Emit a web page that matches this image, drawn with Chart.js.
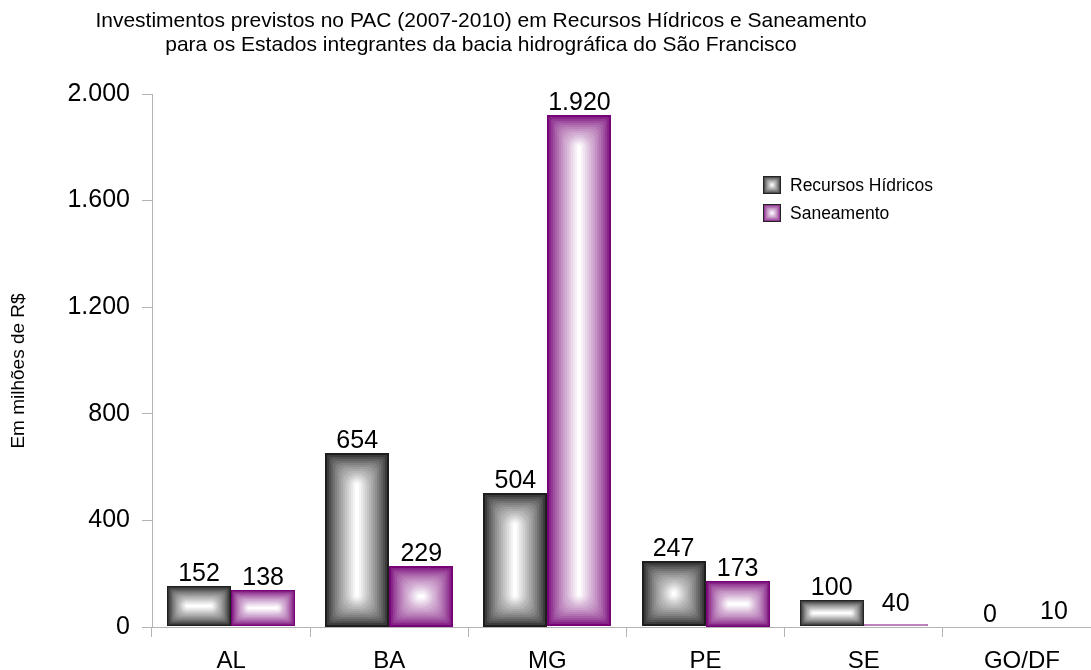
<!DOCTYPE html>
<html>
<head>
<meta charset="utf-8">
<script src="https://cdn.jsdelivr.net/npm/chart.js@4.4.0/dist/chart.umd.min.js"></script>
<style>
  html, body { margin: 0; padding: 0; overflow: hidden; background: #fff; }
  canvas { display: block; }
</style>
</head>
<body>
<canvas id="grafico" width="1110" height="670"></canvas>
<script>
/* ---------- dados ---------- */
const categorias = ["AL", "BA", "MG", "PE", "SE", "GO/DF"];
const recursosHidricos = [152, 654, 504, 247, 100, 0];
const saneamento = [138, 229, 1920, 173, 10, 0];
// rótulos como aparecem no gráfico original
const rotulosRecursos = [152, 654, 504, 247, 100, 0];
const rotulosSaneamento = [138, 229, 1920, 173, 40, 10];
const ticksY = [0, 400, 800, 1200, 1600, 2000];

const FONTE = '"Liberation Sans", Arial, sans-serif';
const corCinza = [30, 30, 30];
const corRoxa = [118, 4, 118];

function formatar(v) {
  return String(v).replace(/\B(?=(\d{3})+(?!\d))/g, ".");
}

function mistura(a, f) {
  const r = Math.round(a[0] + (255 - a[0]) * f);
  const g = Math.round(a[1] + (255 - a[1]) * f);
  const b = Math.round(a[2] + (255 - a[2]) * f);
  return `rgb(${r},${g},${b})`;
}

// gradiente do centro para as bordas (distância até a borda mais próxima), em faixas
function gradienteRet(ctx, x, y, w, h, cor) {
  const passos = 16;
  const m = Math.min(w, h) / 2;
  for (let i = 0; i < passos; i++) {
    const f = i / (passos - 1);
    const d = f * m * 0.94;
    const wi = w - 2 * d, hi = h - 2 * d;
    if (i > 0 && hi < 1) break;
    ctx.fillStyle = mistura(cor, Math.pow(f, 0.75));
    ctx.beginPath();
    ctx.roundRect(x + d, y + d, wi, hi, Math.min(d * 0.6, wi / 2, hi / 2));
    ctx.fill();
  }
}

/* ---------- plugins ---------- */
const barrasGradiente = {
  id: "barrasGradiente",
  afterDatasetsDraw(chart) {
    const ctx = chart.ctx;
    const cores = [corCinza, corRoxa];
    chart.data.datasets.forEach((ds, di) => {
      const meta = chart.getDatasetMeta(di);
      meta.data.forEach(el => {
        const p = el.getProps(["x", "y", "base", "width"], true);
        const left = Math.round(p.x - p.width / 2);
        const right = Math.round(p.x + p.width / 2);
        const top = Math.round(Math.min(p.y, p.base));
        const h = Math.round(Math.abs(p.base - p.y));
        if (h < 1) return;
        ctx.save();
        gradienteRet(ctx, left, top, right - left, h, cores[di]);
        ctx.restore();
      });
    });
  }
};

const rotulos = {
  id: "rotulos",
  afterDatasetsDraw(chart) {
    const ctx = chart.ctx;
    const listas = [rotulosRecursos, rotulosSaneamento];
    ctx.save();
    ctx.fillStyle = "#000";
    ctx.font = "25px " + FONTE;
    ctx.textAlign = "center";
    ctx.textBaseline = "alphabetic";
    chart.data.datasets.forEach((ds, di) => {
      const meta = chart.getDatasetMeta(di);
      meta.data.forEach((el, i) => {
        const v = listas[di][i];
        const y = chart.scales.y.getPixelForValue(v) - 5;
        ctx.fillText(formatar(v), el.x, y);
      });
    });
    ctx.restore();
  }
};

const tituloLegenda = {
  id: "tituloLegenda",
  afterDraw(chart) {
    const ctx = chart.ctx;
    ctx.save();
    ctx.fillStyle = "#000";
    ctx.textAlign = "center";
    ctx.textBaseline = "middle";
    ctx.font = "21px " + FONTE;
    ctx.fillText("Investimentos previstos no PAC (2007-2010) em Recursos Hídricos e Saneamento", 481, 21);
    ctx.fillText("para os Estados integrantes da bacia hidrográfica do São Francisco", 481, 45);

    // título do eixo y
    ctx.save();
    ctx.translate(19, 371);
    ctx.rotate(-Math.PI / 2);
    ctx.font = "19px " + FONTE;
    ctx.fillText("Em milhões de R$", 0, 0);
    ctx.restore();

    // legenda
    const itens = [["Recursos Hídricos", corCinza], ["Saneamento", corRoxa]];
    ctx.textAlign = "left";
    ctx.font = "17.5px " + FONTE;
    itens.forEach((it, i) => {
      const yc = 185 + i * 28;
      gradienteRet(ctx, 763, yc - 9, 18, 18, it[1]);
      ctx.strokeStyle = "#222";
      ctx.lineWidth = 1;
      ctx.strokeRect(763.5, yc - 8.5, 17, 17);
      ctx.fillStyle = "#000";
      ctx.fillText(it[0], 790, yc + 1);
    });
    ctx.restore();
  }
};

/* ---------- gráfico ---------- */
Chart.defaults.color = "#000";
Chart.defaults.font.family = FONTE;

new Chart(document.getElementById("grafico"), {
  type: "bar",
  data: {
    labels: categorias,
    datasets: [
      { label: "Recursos Hídricos", data: recursosHidricos, backgroundColor: "rgba(0,0,0,0)",
        categoryPercentage: 0.81, barPercentage: 1 },
      { label: "Saneamento", data: saneamento, backgroundColor: "rgba(0,0,0,0)",
        categoryPercentage: 0.81, barPercentage: 1 }
    ]
  },
  options: {
    responsive: false,
    animation: false,
    layout: { padding: { top: 94, right: 9, bottom: 0, left: 0 } },
    plugins: { legend: { display: false }, title: { display: false }, tooltip: { enabled: false } },
    scales: {
      x: {
        grid: { drawOnChartArea: false, tickLength: 10, color: "#b3b3b3", offset: true },
        border: { color: "#b3b3b3" },
        ticks: { font: { size: 24 }, padding: 10, maxRotation: 0 },
        afterFit(s) { s.height = 43; }
      },
      y: {
        min: 0,
        max: 2000,
        afterBuildTicks(s) { s.ticks = ticksY.map(v => ({ value: v })); },
        grid: { drawOnChartArea: false, tickLength: 10, color: "#b3b3b3" },
        border: { color: "#b3b3b3" },
        ticks: { font: { size: 25 }, padding: 12, callback: v => formatar(v) },
        afterFit(s) { s.width = 152; }
      }
    }
  },
  plugins: [barrasGradiente, rotulos, tituloLegenda]
});
</script>
</body>
</html>
